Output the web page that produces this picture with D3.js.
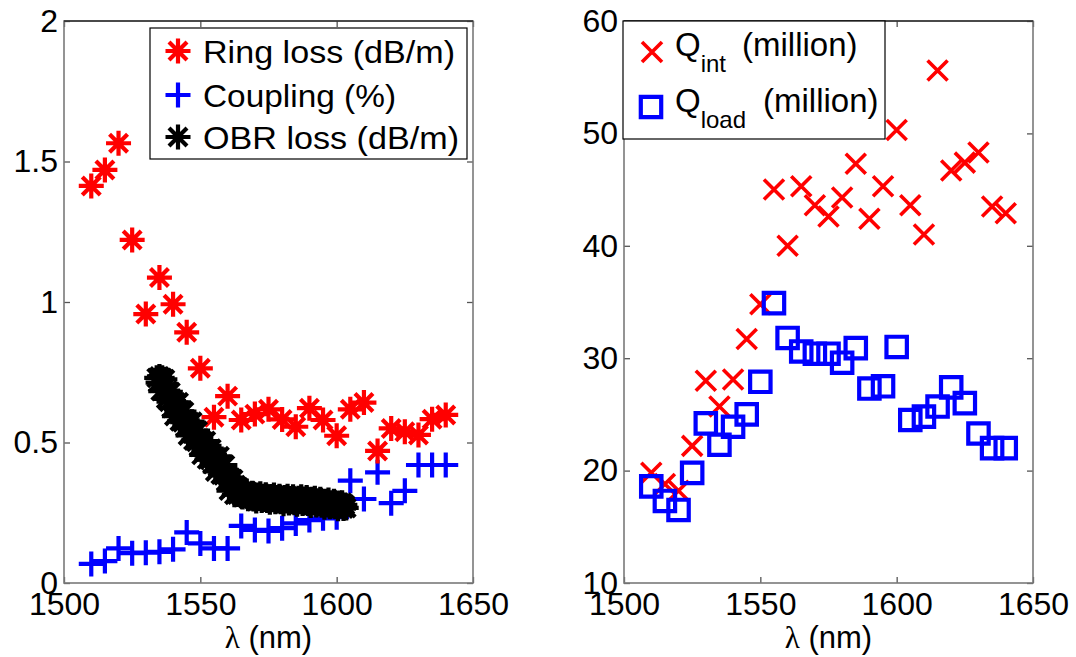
<!DOCTYPE html>
<html>
<head>
<meta charset="utf-8">
<script src="https://cdn.jsdelivr.net/npm/d3@7/dist/d3.min.js"></script>
<style>
  html, body { margin: 0; padding: 0; background: #fff; }
  svg { display: block; }
  text { font-family: "Liberation Sans", Arial, sans-serif; fill: #000; }
</style>
</head>
<body>
<div id="chart"></div>
<script>
// ---- data ----
const wavelengths = [1510, 1515, 1520, 1525, 1530, 1535, 1540, 1545, 1550, 1555, 1560, 1565, 1570, 1575,
  1580, 1585, 1590, 1595, 1600, 1605, 1610, 1615, 1620, 1625, 1630, 1635, 1640];

const ringLoss = [1.413, 1.47, 1.565, 1.221, 0.957, 1.087, 0.992, 0.892, 0.764, 0.59, 0.665, 0.58, 0.601, 0.618,
  0.582, 0.556, 0.622, 0.58, 0.524, 0.618, 0.642, 0.47, 0.55, 0.538, 0.527, 0.583, 0.598];

const coupling = [0.068, 0.078, 0.123, 0.106, 0.108, 0.111, 0.12, 0.18, 0.141, 0.123, 0.123, 0.203, 0.189, 0.185,
  0.195, 0.212, 0.224, 0.23, 0.234, 0.364, 0.299, 0.394, 0.284, 0.328, 0.42, 0.42, 0.42];

// OBR trace, readings every 0.5 nm
const obrLambda = [
  1534, 1534.5, 1535, 1535.5, 1536, 1536.5, 1537, 1537.5, 1538, 1538.5, 1539, 1539.5, 1540, 1540.5,
  1541, 1541.5, 1542, 1542.5, 1543, 1543.5, 1544, 1544.5, 1545, 1545.5, 1546, 1546.5, 1547, 1547.5,
  1548, 1548.5, 1549, 1549.5, 1550, 1550.5, 1551, 1551.5, 1552, 1552.5, 1553, 1553.5, 1554, 1554.5,
  1555, 1555.5, 1556, 1556.5, 1557, 1557.5, 1558, 1558.5, 1559, 1559.5, 1560, 1560.5, 1561, 1561.5,
  1562, 1562.5, 1563, 1563.5, 1564, 1564.5, 1565, 1565.5, 1566, 1566.5, 1567, 1567.5, 1568, 1568.5,
  1569, 1569.5, 1570, 1570.5, 1571, 1571.5, 1572, 1572.5, 1573, 1573.5, 1574, 1574.5, 1575, 1575.5,
  1576, 1576.5, 1577, 1577.5, 1578, 1578.5, 1579, 1579.5, 1580, 1580.5, 1581, 1581.5, 1582, 1582.5,
  1583, 1583.5, 1584, 1584.5, 1585, 1585.5, 1586, 1586.5, 1587, 1587.5, 1588, 1588.5, 1589, 1589.5,
  1590, 1590.5, 1591, 1591.5, 1592, 1592.5, 1593, 1593.5, 1594, 1594.5, 1595, 1595.5, 1596, 1596.5,
  1597, 1597.5, 1598, 1598.5, 1599, 1599.5, 1600, 1600.5, 1601, 1601.5, 1602, 1602.5, 1603, 1603.5];
const obrLoss = [
  0.730, 0.713, 0.735, 0.683, 0.730, 0.690, 0.725, 0.655, 0.685, 0.645, 0.680, 0.623, 0.646, 0.594,
  0.642, 0.605, 0.643, 0.576, 0.609, 0.572, 0.610, 0.554, 0.577, 0.525, 0.573, 0.536, 0.574, 0.507,
  0.540, 0.503, 0.542, 0.485, 0.508, 0.456, 0.504, 0.467, 0.505, 0.440, 0.474, 0.439, 0.478, 0.423,
  0.447, 0.397, 0.447, 0.412, 0.451, 0.386, 0.420, 0.383, 0.420, 0.361, 0.382, 0.329, 0.375, 0.340,
  0.369, 0.314, 0.348, 0.315, 0.340, 0.317, 0.327, 0.306, 0.326, 0.311, 0.327, 0.300, 0.314, 0.302,
  0.319, 0.299, 0.310, 0.292, 0.313, 0.301, 0.318, 0.294, 0.309, 0.297, 0.314, 0.294, 0.305, 0.287,
  0.308, 0.296, 0.313, 0.289, 0.304, 0.292, 0.309, 0.289, 0.300, 0.282, 0.304, 0.292, 0.309, 0.285,
  0.301, 0.289, 0.307, 0.286, 0.298, 0.280, 0.302, 0.289, 0.307, 0.283, 0.299, 0.286, 0.304, 0.283,
  0.295, 0.276, 0.298, 0.285, 0.302, 0.278, 0.293, 0.281, 0.298, 0.277, 0.289, 0.270, 0.291, 0.278,
  0.295, 0.271, 0.286, 0.274, 0.291, 0.271, 0.282, 0.264, 0.285, 0.273, 0.286, 0.265, 0.278, 0.267];

const qInt = [19.8, 18.8, 18.2, 22.2, 28.0, 25.7, 28.1, 31.7, 34.8, 45.0, 40.0, 45.3, 43.6, 42.6,
  44.3, 47.3, 42.4, 45.3, 50.3, 43.6, 41.0, 55.6, 46.7, 47.4, 48.3, 43.5, 42.9];
const qLoad = [18.6, 17.3, 16.5, 19.8, 24.2, 22.3, 23.9, 25.0, 27.9, 34.9, 31.8, 30.6, 30.4, 30.4,
  29.6, 30.9, 27.3, 27.5, 31.0, 24.5, 24.8, 25.7, 27.4, 26.0, 23.3, 22.0, 22.0];

const xTicks = [1500, 1550, 1600, 1650];
const leftYTicks = [0, 0.5, 1, 1.5, 2];
const rightYTicks = [10, 20, 30, 40, 50, 60];

// ---- layout ----
const W = 1076, H = 657;
const yTop = 21, yBot = 583;
const svg = d3.select('#chart').append('svg').attr('width', W).attr('height', H);

const xL = d3.scaleLinear().domain([1500, 1650]).range([64, 473]);
const yL = d3.scaleLinear().domain([0, 2]).range([yBot, yTop]);
const xR = d3.scaleLinear().domain([1500, 1650]).range([624, 1033]);
const yR = d3.scaleLinear().domain([10, 60]).range([yBot, yTop]);

// marker shapes
function starPath(r) {
  const d = r * 0.72;
  return `M${-r},0H${r}M0,${-r}V${r}M${-d},${-d}L${d},${d}M${-d},${d}L${d},${-d}`;
}
function plusPath(r) { return `M${-r},0H${r}M0,${-r}V${r}`; }
function xPath(r) { return `M${-r},${-r}L${r},${r}M${-r},${r}L${r},${-r}`; }
function squarePath(s) { return `M${-s},${-s}H${s}V${s}H${-s}Z`; }

const STAR = starPath(12.5), PLUS = plusPath(12.5), CROSS = xPath(10), SQUARE = squarePath(10.2);

function frame(x, y, yTicks) {
  const g = svg.append('g');
  const fmt = d => String(d);
  g.append('g').attr('transform', `translate(0,${yBot})`)
    .call(d3.axisBottom(x).tickValues(xTicks).tickFormat(fmt).tickSizeInner(-6).tickSizeOuter(0).tickPadding(9))
    .call(a => a.select('.domain').remove());
  g.append('g').attr('transform', `translate(${x.range()[0]},0)`)
    .call(d3.axisLeft(y).tickValues(yTicks).tickFormat(fmt).tickSizeInner(-6).tickSizeOuter(0).tickPadding(6))
    .call(a => a.select('.domain').remove());
  g.append('g').attr('transform', `translate(0,${yTop})`)
    .call(d3.axisTop(x).tickValues(xTicks).tickFormat('').tickSizeInner(-6).tickSizeOuter(0))
    .call(a => a.select('.domain').remove());
  g.append('g').attr('transform', `translate(${x.range()[1]},0)`)
    .call(d3.axisRight(y).tickValues(yTicks).tickFormat('').tickSizeInner(-6).tickSizeOuter(0))
    .call(a => a.select('.domain').remove());
  g.selectAll('.tick line').attr('stroke', '#555').attr('stroke-width', 1.3);
  g.selectAll('.tick text').attr('font-size', 32).attr('font-family', '"Liberation Sans", Arial, sans-serif').attr('fill', '#000');

  const [x0, x1] = x.range();
  g.append('rect').attr('x', x0).attr('y', yTop).attr('width', x1 - x0).attr('height', yBot - yTop)
    .attr('fill', 'none').attr('stroke', '#7a7a7a').attr('stroke-width', 1.6);
  g.append('line').attr('x1', x0).attr('x2', x1).attr('y1', yTop).attr('y2', yTop)
    .attr('stroke', '#000').attr('stroke-width', 1.2);

  const lab = g.append('text').attr('x', (x0 + x1) / 2).attr('y', 648).attr('text-anchor', 'middle')
    .attr('font-size', 31);
  lab.append('tspan').attr('font-family', '"Liberation Serif", "Times New Roman", serif').text('λ');
  lab.append('tspan').text(' (nm)');
}

function scatter(x, y, xs, ys, path, color, width) {
  svg.append('g').selectAll('path').data(xs.map((d, i) => [d, ys[i]])).join('path')
    .attr('transform', d => `translate(${x(d[0])},${y(d[1])})`)
    .attr('d', path)
    .attr('fill', 'none')
    .attr('stroke', color)
    .attr('stroke-width', width);
}

// ---- left panel ----
frame(xL, yL, leftYTicks);
scatter(xL, yL, wavelengths, coupling, PLUS, '#0000ff', 4.2);
scatter(xL, yL, wavelengths, ringLoss, STAR, '#ff0000', 4.2);
scatter(xL, yL, obrLambda, obrLoss, STAR, '#000', 4.2);

// legend (left)
const legL = svg.append('g');
legL.append('rect').attr('x', 150).attr('y', 28).attr('width', 317).attr('height', 131)
  .attr('fill', '#fff').attr('stroke', '#000').attr('stroke-width', 1.2);
const legItems = [
  { label: 'Ring loss (dB/m)', path: STAR, color: '#ff0000', w: 4.2, y: 51, len: 252 },
  { label: 'Coupling (%)', path: PLUS, color: '#0000ff', w: 4.2, y: 95, len: 193 },
  { label: 'OBR loss (dB/m)', path: STAR, color: '#000', w: 4.2, y: 137, len: 256 }
];
legItems.forEach(it => {
  legL.append('path').attr('transform', `translate(178,${it.y})`).attr('d', it.path)
    .attr('fill', 'none').attr('stroke', it.color).attr('stroke-width', it.w);
  legL.append('text').attr('x', 203).attr('y', it.y).attr('dy', '0.36em').attr('font-size', 32)
    .attr('textLength', it.len).attr('lengthAdjust', 'spacingAndGlyphs').text(it.label);
});

// ---- right panel ----
frame(xR, yR, rightYTicks);
scatter(xR, yR, wavelengths, qInt, CROSS, '#ff0000', 3.6);
scatter(xR, yR, wavelengths, qLoad, SQUARE, '#0000ff', 4.2);

// legend (right)
const legR = svg.append('g');
legR.append('rect').attr('x', 623).attr('y', 21).attr('width', 262).attr('height', 118)
  .attr('fill', '#fff').attr('stroke', '#000').attr('stroke-width', 1.2);
legR.append('path').attr('transform', 'translate(652,52)').attr('d', CROSS)
  .attr('fill', 'none').attr('stroke', '#ff0000').attr('stroke-width', 3.6);
legR.append('path').attr('transform', 'translate(651,107)').attr('d', SQUARE)
  .attr('fill', 'none').attr('stroke', '#0000ff').attr('stroke-width', 4.2);
[
  { sub: 'int', y: 56, px: 742 },
  { sub: 'load', y: 112, px: 763 }
].forEach(it => {
  const t = legR.append('text').attr('x', 675).attr('y', it.y).attr('font-size', 33);
  t.append('tspan').text('Q');
  t.append('tspan').attr('font-size', 24).attr('dy', 16).text(it.sub);
  t.append('tspan').attr('x', it.px).attr('dy', -16).text('(million)');
});
</script>
</body>
</html>
